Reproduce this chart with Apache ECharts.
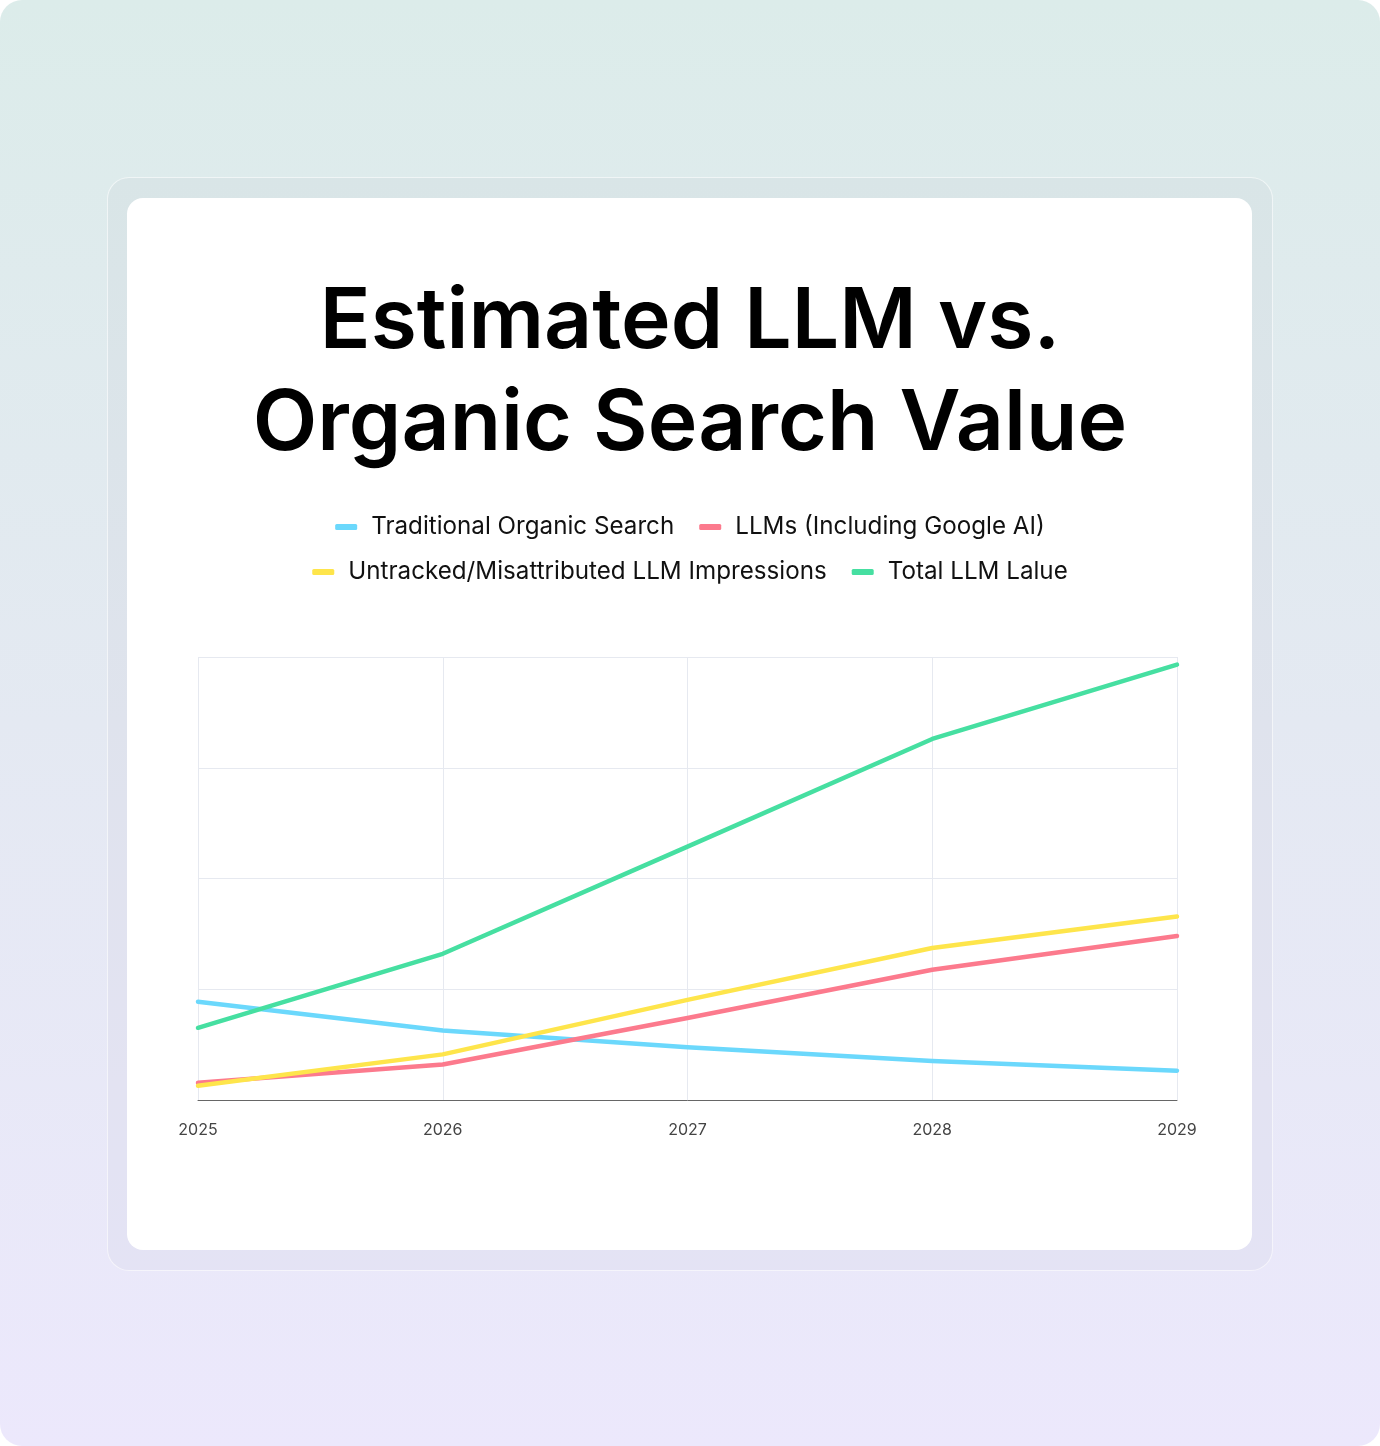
<!DOCTYPE html>
<html>
<head>
<meta charset="utf-8">
<script src="https://cdn.jsdelivr.net/npm/echarts@6/dist/echarts.min.js"></script>
<style>
html,body{margin:0;padding:0;background:#ffffff;}
#page{position:absolute;left:0;top:0;width:1380px;height:1446px;border-radius:22px;overflow:hidden;
 background:linear-gradient(180deg,#dcecea 0%,#e4e9f2 50%,#ece8fc 100%);}
#frame{position:absolute;left:107px;top:177px;width:1164px;height:1092px;border-radius:22px;
 background:rgba(110,110,150,0.045);border:1px solid rgba(255,255,255,0.6);}
#card{position:absolute;left:127px;top:198px;width:1125px;height:1052px;border-radius:16px;background:#ffffff;}
#chart{position:absolute;left:0;top:0;width:1380px;height:1446px;}
</style>
</head>
<body>
<div id="page"><div id="frame"></div><div id="card"></div></div>
<div id="chart"></div>
<script>
const years = ['2025','2026','2027','2028','2029'];
const seriesNames = ['Traditional Organic Search','LLMs (Including Google AI)','Untracked/Misattributed LLM Impressions','Total LLM Lalue'];
const traditionalOrganic = [22.2, 15.7, 11.9, 8.8, 6.6];
const llmsIncludingGoogleAI = [3.9, 8.0, 18.5, 29.4, 37.0];
const untrackedLLM = [3.2, 10.3, 22.6, 34.3, 41.4];
const totalLLMValue = [16.3, 33.0, 57.2, 81.5, 98.3];
const colors = ['#6bd8fc','#fc7a8d','#fee54b','#46dfa1'];

const chart = echarts.init(document.getElementById('chart'), null, {renderer:'canvas'});
const font = 'Inter, "Noto Sans", sans-serif';
const legendCommon = {
  icon: 'roundRect', itemWidth: 22, itemHeight: 6, itemGap: 25,
  textStyle: {fontFamily: font, fontSize: 24.2, color: '#111111', padding: [0,0,0,9]},
  selectedMode: false
};
const datas = [traditionalOrganic, llmsIncludingGoogleAI, untrackedLLM, totalLLMValue];
chart.setOption({
  animation: false,
  title: {
    text: 'Estimated LLM vs.\nOrganic Search Value',
    left: 'center', top: 267,
    textStyle: {fontFamily: font, fontSize: 84, fontWeight: 600, color: '#000000', lineHeight: 102, letterSpacing: -2.6}
  },
  legend: [
    Object.assign({data: seriesNames.slice(0,2), left: 'center', top: 510}, legendCommon),
    Object.assign({data: seriesNames.slice(2,4), left: 'center', top: 555}, legendCommon)
  ],
  grid: {left: 198, right: 203, top: 657, bottom: 346, containLabel: false},
  xAxis: {
    type: 'category', data: years, boundaryGap: false,
    axisLine: {lineStyle: {color: '#666666', width: 1}},
    axisTick: {show: false},
    axisLabel: {fontFamily: font, fontSize: 16, color: '#444444', margin: 22},
    splitLine: {show: true, lineStyle: {color: '#e6e9f0', width: 1}}
  },
  yAxis: {
    type: 'value', min: 0, max: 100, interval: 25,
    axisLine: {show: false}, axisTick: {show: false}, axisLabel: {show: false},
    splitLine: {show: true, lineStyle: {color: '#e6e9f0', width: 1}}
  },
  series: seriesNames.map((n, i) => ({
    name: n, type: 'line', data: datas[i], showSymbol: false, symbol: 'none',
    lineStyle: {color: colors[i], width: 4.5, cap: 'round', join: 'round'},
    itemStyle: {color: colors[i]}
  }))
});
</script>
</body>
</html>
